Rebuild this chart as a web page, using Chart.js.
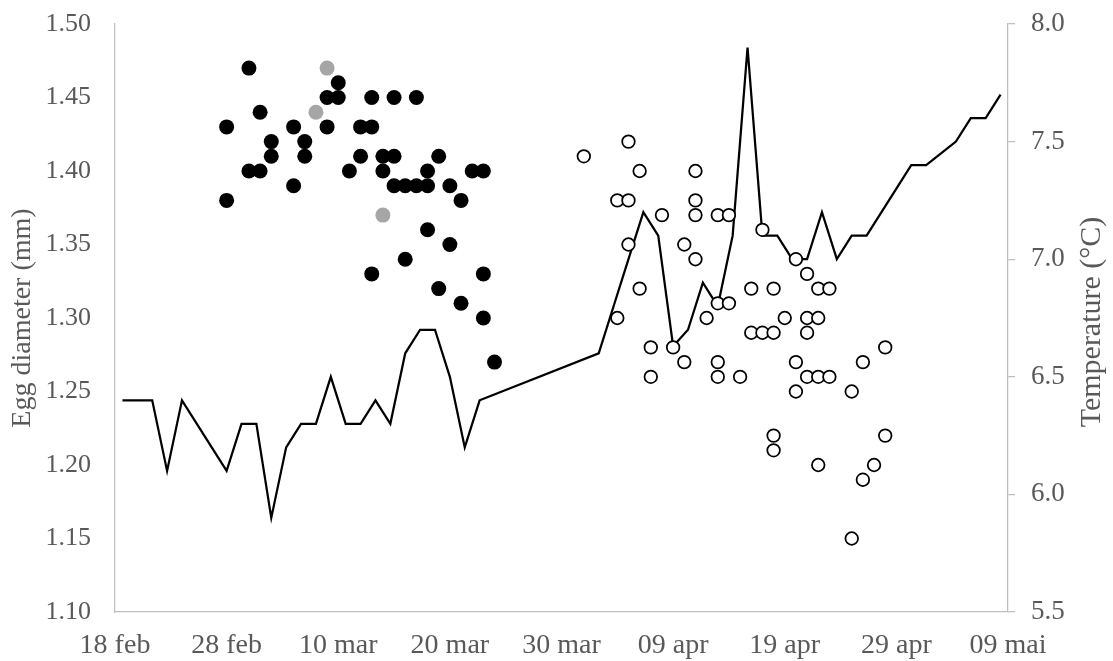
<!DOCTYPE html>
<html><head><meta charset="utf-8">
<script src="https://cdn.jsdelivr.net/npm/chart.js"></script>
<style>html,body{margin:0;padding:0;background:#fff;}#wrap{width:1113px;height:661px;}</style>
</head><body><div id="wrap"><canvas id="c" width="1113" height="661"></canvas></div>
<script>
// x tick labels (every 10 days from 18 feb)
const dateTicks = ['18 feb','28 feb','10 mar','20 mar','30 mar','09 apr','19 apr','29 apr','09 mai'];
const diamTicks = [1.10,1.15,1.20,1.25,1.30,1.35,1.40,1.45,1.50];
const tempTicks = [5.5,6.0,6.5,7.0,7.5,8.0];

// egg diameters: days after 18 feb
const blackDays = [10,10,12,12,13,13,14,14,16,16,17,17,19,19,20,20,21,22,22,23,23,23,24,24,25,25,25,26,26,27,27,28,28,28,29,29,30,30,31,31,32,33,33,33,34];
const blackDiam = [1.43,1.38,1.47,1.40,1.44,1.40,1.42,1.41,1.43,1.39,1.42,1.41,1.45,1.43,1.46,1.45,1.40,1.43,1.41,1.45,1.43,1.33,1.41,1.40,1.45,1.41,1.39,1.39,1.34,1.45,1.39,1.40,1.39,1.36,1.41,1.32,1.39,1.35,1.38,1.31,1.40,1.40,1.33,1.30,1.27];
const greyDays = [18,19,24];
const greyDiam = [1.44,1.47,1.37];
const whiteDays = [42,45,45,46,46,46,47,47,48,48,49,50,51,51,52,52,52,52,53,54,54,54,54,55,55,56,57,57,58,58,59,59,59,59,60,61,61,61,62,62,62,62,63,63,63,63,64,64,66,66,67,67,68,69,69];
const whiteDiam = [1.41,1.38,1.30,1.42,1.38,1.35,1.40,1.32,1.28,1.26,1.37,1.28,1.35,1.27,1.40,1.38,1.37,1.34,1.30,1.37,1.31,1.27,1.26,1.37,1.31,1.26,1.32,1.29,1.36,1.29,1.32,1.29,1.22,1.21,1.30,1.34,1.27,1.25,1.33,1.30,1.29,1.26,1.32,1.30,1.26,1.20,1.32,1.26,1.25,1.15,1.27,1.19,1.20,1.28,1.22];

// temperature series (60 samples, evenly spaced over the period)
const tempValues = [6.4,6.4,6.4,6.1,6.4,6.3,6.2,6.1,6.3,6.3,5.9,6.2,6.3,6.3,6.5,6.3,6.3,6.4,6.3,6.6,6.7,6.7,6.5,6.2,6.4,
  null,null,null,null,null,null,null,
  6.6,6.8,7.0,7.2,7.1,6.63,6.7,6.9,6.8,7.1,7.9,7.1,7.1,7.0,7.0,7.2,7.0,7.1,7.1,7.2,7.3,7.4,7.4,7.45,7.5,7.6,7.6,7.7];
const tempLabels = tempValues.map((v,i)=>String(i+1));

const pts = (xs, ys) => xs.map((x,i)=>({x:x, y:ys[i]}));
const FONT = "'Liberation Serif','Times New Roman',serif";
const GREY_TXT = '#595959';
const AXIS = '#bfbfbf';

const titles = {
  id: 'titles',
  afterDraw(chart) {
    const ctx = chart.ctx, a = chart.chartArea;
    const cy = (a.top + a.bottom) / 2;
    ctx.save();
    ctx.fillStyle = GREY_TXT;
    ctx.font = "28px " + FONT;
    ctx.textAlign = 'center';
    ctx.textBaseline = 'alphabetic';
    ctx.translate(30, cy);
    ctx.rotate(-Math.PI/2);
    ctx.fillText('Egg diameter (mm)', 0, 0);
    ctx.restore();
    ctx.save();
    ctx.fillStyle = GREY_TXT;
    ctx.font = "30px " + FONT;
    ctx.textAlign = 'center';
    ctx.textBaseline = 'alphabetic';
    ctx.translate(1100, cy + 4);
    ctx.rotate(-Math.PI/2);
    ctx.fillText('Temperature (\u00B0C)', 0, 0);
    ctx.restore();
  }
};

const noVPad = (w) => (s) => { s.width = w; s.paddingTop = 0; s.paddingBottom = 0; };

new Chart(document.getElementById('c'), {
  data: {
    datasets: [
      { type:'line', label:'Temperature', data: tempValues, xAxisID:'x2', yAxisID:'y2',
        borderColor:'#000', borderWidth:2.25, pointRadius:0, spanGaps:true, tension:0, fill:false, order:10 },
      { type:'scatter', label:'black', data: pts(blackDays, blackDiam), xAxisID:'x', yAxisID:'y',
        backgroundColor:'#000', borderColor:'#000', borderWidth:0, pointRadius:7.5, order:2 },
      { type:'scatter', label:'grey', data: pts(greyDays, greyDiam), xAxisID:'x', yAxisID:'y',
        backgroundColor:'#a6a6a6', borderColor:'#a6a6a6', borderWidth:0, pointRadius:7.5, order:1 },
      { type:'scatter', label:'white', data: pts(whiteDays, whiteDiam), xAxisID:'x', yAxisID:'y',
        backgroundColor:'#fff', borderColor:'#000', borderWidth:1.75, pointRadius:6.3, order:0 }
    ]
  },
  options: {
    responsive:false, animation:false, devicePixelRatio:1,
    layout:{ padding:{ top:24, left:0, right:0, bottom:0 } },
    plugins:{ legend:{display:false}, tooltip:{enabled:false} },
    scales:{
      x:{ type:'linear', position:'bottom', min:0, max:80,
        afterBuildTicks(s){ s.ticks = dateTicks.map((t,i)=>({value:i*10})); },
        ticks:{ callback:(v)=>dateTicks[Math.round(v/10)], color:GREY_TXT, font:{family:FONT, size:28}, padding:17, maxRotation:0, autoSkip:false },
        grid:{ display:false, drawTicks:false },
        border:{ display:true, color:AXIS, width:1.25 },
        afterFit(s){ s.height = 49; s.paddingLeft = 0; s.paddingRight = 0; }
      },
      x2:{ type:'category', labels: tempLabels, offset:true, display:false },
      y:{ type:'linear', position:'left', min:1.10, max:1.50,
        afterBuildTicks(s){ s.ticks = diamTicks.map(v=>({value:v})); },
        ticks:{ callback:(v)=>Number(v).toFixed(2), color:GREY_TXT, font:{family:FONT, size:26}, padding:24 },
        grid:{ display:false, drawTicks:false },
        border:{ display:true, color:AXIS, width:1.25 },
        afterFit: noVPad(115)
      },
      y2:{ type:'linear', position:'right', min:5.5, max:8.0,
        afterBuildTicks(s){ s.ticks = tempTicks.map(v=>({value:v})); },
        ticks:{ callback:(v)=>Number(v).toFixed(1), color:GREY_TXT, font:{family:FONT, size:27}, padding:16 },
        grid:{ display:true, drawOnChartArea:false, drawTicks:true, tickLength:7, color:AXIS, lineWidth:1.25 },
        border:{ display:true, color:AXIS, width:1.25 },
        afterFit: noVPad(105)
      }
    }
  },
  plugins:[titles]
});
</script>
</body></html>
